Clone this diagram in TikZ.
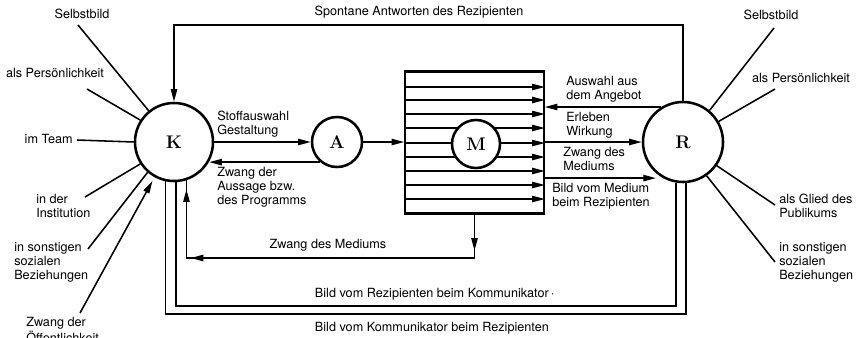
\documentclass[tikz,border=0pt]{standalone}
\usepackage{fontspec}
\setsansfont{TeX Gyre Heros}
\usetikzlibrary{arrows.meta,decorations.markings}

\begin{document}
\begin{tikzpicture}[x=0.025cm,y=-0.025cm,
  >={Triangle[length=9pt,width=4.5pt]},
  every node/.style={font=\sffamily\fontsize{9}{10}\selectfont},
  kreis/.style={draw,circle,line width=1.8pt,fill=white,inner sep=0pt,
    font=\rmfamily\bfseries\fontsize{13}{13}\selectfont},
  txt/.style={align=left,inner sep=0pt},
  linie/.style={line width=1.1pt}]

\useasboundingbox (0,0) rectangle (860,337);

% Medium
\node [draw, line width=1.1pt, minimum width=3.475cm, minimum height=3.525cm, inner sep=0pt] (box) at (474.5,142.5) {};
\draw [line width=2.4pt] (box.north west) -- (box.north east);
\draw [line width=2.4pt] (box.south west) -- (box.south east);
\foreach \y in {87,100,114,128,143,157,171,185,199}
  \draw [->, line width=.9pt] (box.west |- 0,\y) -- (box.east |- 0,\y);

\node [kreis, minimum size=1.95cm] (K) at (174,142) {K};
\node [kreis, minimum size=1.25cm] (A) at (337,142) {A};
\node [kreis, minimum size=1.2cm] (M) at (476,144) {M};
\node [kreis, minimum size=2cm] (R) at (683,142) {R};

% K, A, M
\draw [linie, ->] (K) -- (A);
\draw [linie, ->] (A.east) -- (A.east -| box.west);
\draw [linie, ->] (A.230) -- (A.230 -| K.-29);
\node [txt, anchor=north west] (stoff) at (217,111) {Stoffauswahl\\Gestaltung};
\node [txt, anchor=north west] (aussage) at (217,167) {Zwang der\\Aussage bzw.\\des Programms};

% M, R
\draw [linie, ->] (R.122) -- (R.122 -| box.east);
\draw [linie, ->] (box.east |- R.west) -- (R.west);
\draw [linie, ->, shorten >=5pt] (box.east |- R.241) -- (R.241);
\node [txt, anchor=north west] (auswahl) at (566,76) {Auswahl aus\\dem Angebot};
\node [txt, anchor=north west] (erleben) at (566,112) {Erleben\\Wirkung};
\node [txt, anchor=north west] (zwangm) at (563,147) {Zwang des\\Mediums};
\node [txt, anchor=north west] (bildm) at (552,183) {Bild vom Medium\\beim Rezipienten};

% Rueckkopplung
\coordinate (oben) at (0,25);
\draw [linie, ->] (R.north) -- (R.north |- oben) -- (K.north |- oben) -- (K.north);
\node (spontan) at (419,12) {Spontane Antworten des Rezipienten};

\coordinate (mitte) at (0,258);
\draw [linie, postaction={decorate}, decoration={markings,
    mark=at position .09 with {\arrow{Triangle[length=9pt,width=4.5pt]}},
    mark=at position .8 with {\arrow{Triangle[length=9pt,width=4.5pt]}},
    mark=at position .978 with {\arrow{Triangle[length=9pt,width=4.5pt]}}}]
  (box.south) -- (box.south |- mitte) -- (K.-72 |- mitte) -- (K.-72);
\node (zwangk) at (328,245) {Zwang des Mediums};

\coordinate (bk) at (0,306);
\coordinate (kb) at (0,314);
\draw [linie] (K.-87) -- (K.-87 |- bk) -- (R.-100 |- bk) -- (R.-100);
\draw [linie] (K.-102) -- (K.-102 |- kb) -- (R.-86 |- kb) -- (R.-86);
\node [anchor=west] (bildrk) at (310,294) {Bild vom Rezipienten beim Kommunikator\,$\cdot$};
\node [anchor=west] (bildkr) at (310,328) {Bild vom Kommunikator beim Rezipienten};

% Kommunikator
\node (lselbst) at (82,14) {Selbstbild};
\node (lpers) at (55,73) {als Persönlichkeit};
\node [anchor=east, inner sep=0pt] (lteam) at (73,139) {im Team};
\node [txt, anchor=north west] (linst) at (36,194) {in der\\Institution};
\node [txt, anchor=north west] (lsozial) at (14,242) {in sonstigen\\sozialen\\Beziehungen};
\node [txt, anchor=north west] (loeff) at (26,317) {Zwang der\\Öffentlichkeit};
\coordinate (l1) at (78,25);
\coordinate (l2) at (87,89);
\coordinate (l3) at (77,140);
\coordinate (l4) at (85,197);
\coordinate (l5) at (88,249);
\coordinate (l6) at (80,313);
\draw [linie] (l1) -- (K.129);
\draw [linie] (l2) -- (K.147);
\draw [linie] (l3) -- (K.180);
\draw [linie] (l4) -- (K.213);
\draw [linie] (l5) -- (K.229);
\draw [linie, ->, shorten >=3pt] (l6) -- (K.241);

% Rezipient
\node (rselbst) at (771,15) {Selbstbild};
\node (rpers) at (801,78) {als Persönlichkeit};
\node [txt, anchor=north west] (rglied) at (779,194) {als Glied des\\Publikums};
\node [txt, anchor=north west] (rsozial) at (779,242) {in sonstigen\\sozialen\\Beziehungen};
\coordinate (r1) at (774,28);
\coordinate (r2) at (775,89);
\coordinate (r3) at (775,205);
\coordinate (r4) at (775,262);
\draw [linie] (r1) -- (R.50);
\draw [linie] (r2) -- (R.30);
\draw [linie] (r3) -- (R.-35);
\draw [linie] (r4) -- (R.-55);

\end{tikzpicture}
\end{document}
